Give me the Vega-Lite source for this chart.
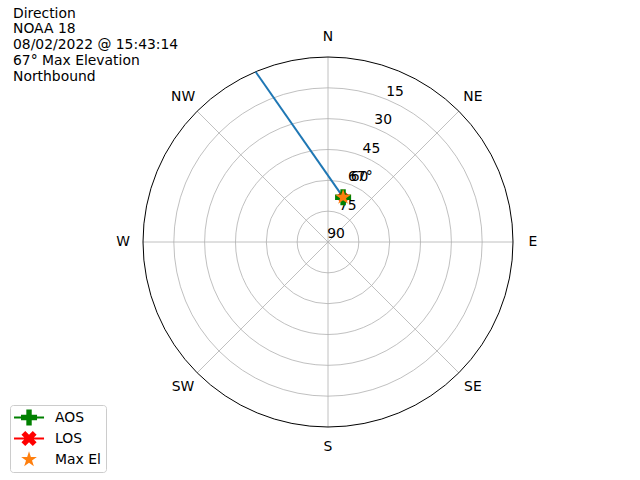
{
  "$schema": "https://vega.github.io/schema/vega-lite/v6.json",
  "autosize": {"type": "none"},
  "padding": {"left": 143, "top": 57, "right": 127, "bottom": 53},
  "width": 370,
  "height": 370,
  "background": "white",
  "config": {"view": {"stroke": null}, "font": "DejaVu Sans"},
  "title": {
    "text": ["Direction", "NOAA 18", "08/02/2022 @ 15:43:14", "67° Max Elevation", "Northbound"],
    "anchor": "start",
    "frame": "group",
    "orient": "top",
    "baseline": "top",
    "offset": 0,
    "dx": -130,
    "dy": 54,
    "font": "DejaVu Sans",
    "fontSize": 13.9,
    "fontWeight": "normal",
    "lineHeight": 15.9,
    "color": "black"
  },
  "datasets": {
    "rings": [{"r": 15}, {"r": 30}, {"r": 45}, {"r": 60}, {"r": 75}],
    "outer": [{"r": 90}],
    "spokes": [
      {"x": 0, "y": 90, "x2": 0, "y2": -90},
      {"x": 90, "y": 0, "x2": -90, "y2": 0},
      {"x": 63.64, "y": 63.64, "x2": -63.64, "y2": -63.64},
      {"x": -63.64, "y": 63.64, "x2": 63.64, "y2": -63.64}
    ],
    "dirs": [
      {"x": 0, "y": 99.7, "t": "N"},
      {"x": 70.5, "y": 70.5, "t": "NE"},
      {"x": 99.7, "y": 0, "t": "E"},
      {"x": 70.5, "y": -70.5, "t": "SE"},
      {"x": 0, "y": -99.7, "t": "S"},
      {"x": -70.5, "y": -70.5, "t": "SW"},
      {"x": -99.7, "y": 0, "t": "W"},
      {"x": -70.5, "y": 70.5, "t": "NW"}
    ],
    "rlabels": [
      {"x": 0, "y": 0, "t": "90"},
      {"x": 5.74, "y": 13.86, "t": "75"},
      {"x": 11.48, "y": 27.72, "t": "60"},
      {"x": 17.22, "y": 41.57, "t": "45"},
      {"x": 22.96, "y": 55.43, "t": "30"},
      {"x": 28.7, "y": 69.29, "t": "15"}
    ],
    "track": [
      {"x": -35.22, "y": 82.83},
      {"x": 7.34, "y": 21.8}
    ],
    "maxel": [{"x": 7.34, "y": 21.8, "t": "67°"}],
    "legend": [{"label": "AOS"}, {"label": "LOS"}, {"label": "Max El"}]
  },
  "layer": [
    {
      "data": {"name": "rings"},
      "mark": {"type": "arc", "theta": 0, "theta2": 6.2832, "filled": false, "stroke": "#b0b0b0", "strokeWidth": 0.8},
      "encoding": {
        "radius": {"field": "r", "type": "quantitative", "stack": null, "scale": {"type": "linear", "domain": [0, 90], "range": [0, 185], "zero": true, "nice": false}}
      }
    },
    {
      "data": {"name": "spokes"},
      "mark": {"type": "rule", "color": "#b0b0b0", "strokeWidth": 0.8},
      "encoding": {
        "x": {"field": "x", "type": "quantitative", "scale": {"domain": [-90, 90], "nice": false, "zero": false}, "axis": null},
        "y": {"field": "y", "type": "quantitative", "scale": {"domain": [-90, 90], "nice": false, "zero": false}, "axis": null},
        "x2": {"field": "x2"},
        "y2": {"field": "y2"}
      }
    },
    {
      "data": {"name": "outer"},
      "mark": {"type": "arc", "theta": 0, "theta2": 6.2832, "filled": false, "stroke": "black", "strokeWidth": 1},
      "encoding": {
        "radius": {"field": "r", "type": "quantitative", "stack": null, "scale": {"type": "linear", "domain": [0, 90], "range": [0, 185], "zero": true, "nice": false}}
      }
    },
    {
      "data": {"name": "rlabels"},
      "mark": {"type": "text", "align": "center", "baseline": "middle", "dx": 8, "dy": -8, "fontSize": 13.9, "font": "DejaVu Sans", "color": "black"},
      "encoding": {
        "x": {"field": "x", "type": "quantitative"},
        "y": {"field": "y", "type": "quantitative"},
        "text": {"field": "t"}
      }
    },
    {
      "data": {"name": "dirs"},
      "mark": {"type": "text", "align": "center", "baseline": "middle", "fontSize": 13.9, "font": "DejaVu Sans", "color": "black"},
      "encoding": {
        "x": {"field": "x", "type": "quantitative"},
        "y": {"field": "y", "type": "quantitative"},
        "text": {"field": "t"}
      }
    },
    {
      "data": {"name": "track"},
      "mark": {"type": "line", "color": "#1f77b4", "strokeWidth": 2},
      "encoding": {
        "x": {"field": "x", "type": "quantitative"},
        "y": {"field": "y", "type": "quantitative"}
      }
    },
    {
      "data": {"name": "maxel"},
      "mark": {"type": "point", "filled": true, "opacity": 1, "color": "#ff0000", "size": 100, "strokeWidth": 0,
        "shape": "M0.502,-1.011L1.011,-0.502L0.509,0L1.011,0.502L0.502,1.011L0,0.509L-0.502,1.011L-1.011,0.502L-0.509,0L-1.011,-0.502L-0.502,-1.011L0,-0.509Z"},
      "encoding": {
        "x": {"field": "x", "type": "quantitative"},
        "y": {"field": "y", "type": "quantitative"}
      }
    },
    {
      "data": {"name": "maxel"},
      "mark": {"type": "point", "filled": true, "opacity": 1, "color": "#008000", "size": 225, "strokeWidth": 0,
        "shape": "M-0.36,-1.07H0.36V-0.36H1.07V0.36H0.36V1.07H-0.36V0.36H-1.07V-0.36H-0.36Z"},
      "encoding": {
        "x": {"field": "x", "type": "quantitative"},
        "y": {"field": "y", "type": "quantitative"}
      }
    },
    {
      "data": {"name": "maxel"},
      "mark": {"type": "point", "filled": true, "opacity": 1, "color": "#ff7f0e", "size": 225, "strokeWidth": 0,
        "shape": "M0,-1.1L0.247,-0.34L1.046,-0.34L0.399,0.13L0.647,0.89L0,0.42L-0.647,0.89L-0.399,0.13L-1.046,-0.34L-0.247,-0.34Z"},
      "encoding": {
        "x": {"field": "x", "type": "quantitative"},
        "y": {"field": "y", "type": "quantitative"}
      }
    },
    {
      "data": {"name": "maxel"},
      "mark": {"type": "text", "align": "left", "baseline": "middle", "dx": 5, "dy": -20, "fontSize": 13.9, "font": "DejaVu Sans", "color": "black"},
      "encoding": {
        "x": {"field": "x", "type": "quantitative"},
        "y": {"field": "y", "type": "quantitative"},
        "text": {"field": "t"}
      }
    },
    {
      "data": {"name": "legend"},
      "mark": {"type": "point", "filled": true, "opacity": 0},
      "encoding": {
        "color": {
          "field": "label", "type": "nominal",
          "scale": {"domain": ["AOS", "LOS", "Max El"], "range": ["#008000", "#ff0000", "#ff7f0e"]},
          "legend": {
            "title": null, "orient": "none", "legendX": -133, "legendY": 348,
            "symbolSize": 225, "symbolStrokeWidth": 0, "symbolOpacity": 1,
            "labelFont": "DejaVu Sans", "labelFontSize": 13.9, "labelColor": "black", "labelOffset": 25,
            "rowPadding": 4, "padding": 5, "fillColor": "white", "strokeColor": "#cccccc", "cornerRadius": 3,
            "encode": {"symbols": {"update": {"opacity": {"value": 1}, "fillOpacity": {"value": 1}}}}
          }
        },
        "shape": {
          "field": "label", "type": "nominal",
          "scale": {"domain": ["AOS", "LOS", "Max El"], "range": [
            "M-1.13,-0.14H2.87V0.14H-1.13Z M0.51,-1.07H1.23V-0.36H1.94V0.36H1.23V1.07H0.51V0.36H-0.2V-0.36H0.51Z",
            "M-1.13,-0.14H2.87V0.14H-1.13Z M1.372,-1.011L1.881,-0.502L1.379,0L1.881,0.502L1.372,1.011L0.87,0.509L0.368,1.011L-0.141,0.502L0.361,0L-0.141,-0.502L0.368,-1.011L0.87,-0.509Z",
            "M0.87,-1.1L1.117,-0.34L1.916,-0.34L1.269,0.13L1.517,0.89L0.87,0.42L0.223,0.89L0.471,0.13L-0.176,-0.34L0.623,-0.34Z"
          ]}
        }
      }
    }
  ]
}
